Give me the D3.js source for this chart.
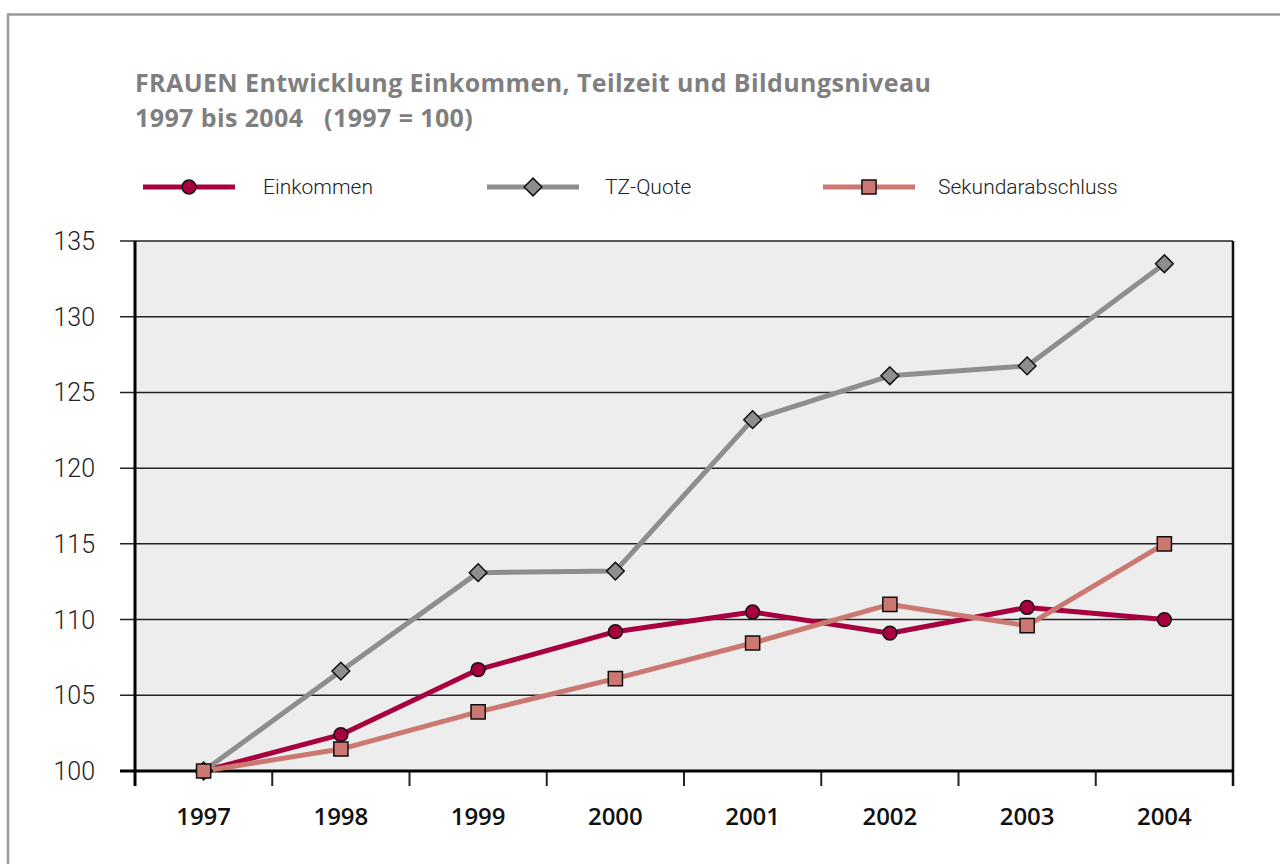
<!DOCTYPE html>
<html>
<head>
<meta charset="utf-8">
<script src="https://cdn.jsdelivr.net/npm/d3@7"></script>
<style>
  body { margin: 0; background: #fff; }
  svg { display: block; }
</style>
</head>
<body>
<div id="chart"></div>
<script>
// data (1997 = 100)
const years = ["1997", "1998", "1999", "2000", "2001", "2002", "2003", "2004"];
const einkommen = [100, 102.4, 106.7, 109.2, 110.5, 109.1, 110.8, 110.0];
const tzQuote = [100, 106.6, 113.1, 113.2, 123.2, 126.1, 126.75, 133.5];
const sekundar = [100, 101.45, 103.9, 106.1, 108.45, 111.0, 109.6, 115.0];
const yTicks = [100, 105, 110, 115, 120, 125, 130, 135];

const series = [
  { name: "Einkommen", values: einkommen, color: "#a8003f", marker: "circle" },
  { name: "TZ-Quote", values: tzQuote, color: "#8e8e8e", marker: "diamond" },
  { name: "Sekundarabschluss", values: sekundar, color: "#cc7872", marker: "square" }
];

const totalWidth = 1280, totalHeight = 864;
const margin = { top: 241, right: 47, bottom: 93, left: 135 };
const width = totalWidth - margin.left - margin.right;
const height = totalHeight - margin.top - margin.bottom;

const svg = d3.select("#chart").append("svg")
    .attr("width", totalWidth)
    .attr("height", totalHeight);

// outer frame (only top and left edges are visible)
svg.append("path")
    .attr("d", `M8,${totalHeight} V14.5 H${totalWidth}`)
    .attr("fill", "none")
    .attr("stroke", "#9a9a9a")
    .attr("stroke-width", 2.5);

// title
const title = svg.append("text")
    .style("font-family", "'Open Sans', sans-serif")
    .style("font-weight", "bold")
    .style("font-size", "25px")
    .style("letter-spacing", "0.4px")
    .attr("fill", "#7f7f7f");
title.append("tspan").attr("x", 135).attr("y", 92)
    .text("FRAUEN Entwicklung Einkommen, Teilzeit und Bildungsniveau");
title.append("tspan").attr("x", 135).attr("y", 127)
    .style("white-space", "pre")
    .text("1997 bis 2004   (1997 = 100)");

const g = svg.append("g")
    .attr("transform", `translate(${margin.left},${margin.top})`);

const x = d3.scaleBand()
    .domain(years)
    .range([0, width]);

const y = d3.scaleLinear()
    .domain([100, 135])
    .range([height, 0]);

// plot background
g.append("rect")
    .attr("width", width)
    .attr("height", height)
    .attr("fill", "#ededed");

// horizontal gridlines with ticks sticking out left
g.append("g")
    .selectAll("line")
    .data(yTicks)
    .enter().append("line")
      .attr("x1", -15)
      .attr("x2", width)
      .attr("y1", d => y(d))
      .attr("y2", d => y(d))
      .attr("stroke", "#222")
      .attr("stroke-width", 1.5);

// y axis labels
g.append("g")
    .selectAll("text")
    .data(yTicks)
    .enter().append("text")
      .attr("x", -40)
      .attr("y", d => y(d))
      .attr("dy", "0.36em")
      .style("text-anchor", "end")
      .style("font-family", "Roboto, sans-serif")
      .style("font-weight", 300)
      .style("font-size", "25px")
      .attr("fill", "#222")
      .text(d => d);

// x axis ticks between categories
const xBounds = years.map(d => x(d)).concat([width]);
g.append("g")
    .selectAll("line")
    .data(xBounds)
    .enter().append("line")
      .attr("x1", d => d)
      .attr("x2", d => d)
      .attr("y1", height)
      .attr("y2", height + 15)
      .attr("stroke", "#222")
      .attr("stroke-width", 2);

// x labels
g.append("g")
    .selectAll("text")
    .data(years)
    .enter().append("text")
      .attr("x", d => x(d) + x.bandwidth() / 2)
      .attr("y", height + 54)
      .style("text-anchor", "middle")
      .style("font-family", "'Open Sans', sans-serif")
      .style("font-weight", 600)
      .style("font-size", "24px")
      .attr("fill", "#111")
      .text(d => d);

// axis lines
g.append("line")
    .attr("x1", 0).attr("x2", 0)
    .attr("y1", 0).attr("y2", height + 15)
    .attr("stroke", "#000").attr("stroke-width", 3);
g.append("line")
    .attr("x1", width).attr("x2", width)
    .attr("y1", 0).attr("y2", height + 15)
    .attr("stroke", "#111").attr("stroke-width", 2.5);
g.append("line")
    .attr("x1", -15).attr("x2", width)
    .attr("y1", height).attr("y2", height)
    .attr("stroke", "#000").attr("stroke-width", 3);

const line = d3.line()
    .x((d, i) => x(years[i]) + x.bandwidth() / 2)
    .y(d => y(d));

const symbolFor = {
  circle: d3.symbol().type(d3.symbolCircle).size(150),
  diamond: d3.symbol().type(d3.symbolDiamond2).size(200),
  square: d3.symbol().type(d3.symbolSquare).size(200)
};

series.forEach(s => {
  g.append("path")
      .datum(s.values)
      .attr("fill", "none")
      .attr("stroke", s.color)
      .attr("stroke-width", 5)
      .attr("stroke-linejoin", "round")
      .attr("d", line);
});
series.forEach(s => {
  g.append("g")
    .selectAll("path")
    .data(s.values)
    .enter().append("path")
      .attr("transform", (d, i) => `translate(${x(years[i]) + x.bandwidth() / 2},${y(d)})`)
      .attr("d", symbolFor[s.marker]())
      .attr("fill", s.color)
      .attr("stroke", "#111")
      .attr("stroke-width", 1.5);
});

// legend
const legendLineX = [143, 487, 823];
const legendTextX = [263, 605, 938];
const legend = svg.append("g")
    .selectAll("g")
    .data(series)
    .enter().append("g")
      .attr("transform", "translate(0,187)");

legend.append("line")
    .attr("x1", (d, i) => legendLineX[i])
    .attr("x2", (d, i) => legendLineX[i] + 92)
    .attr("stroke", d => d.color)
    .attr("stroke-width", 5);
legend.append("path")
    .attr("transform", (d, i) => `translate(${legendLineX[i] + 46},0)`)
    .attr("d", d => symbolFor[d.marker]())
    .attr("fill", d => d.color)
    .attr("stroke", "#111")
    .attr("stroke-width", 1.5);
legend.append("text")
    .attr("x", (d, i) => legendTextX[i])
    .attr("dy", "0.35em")
    .style("font-family", "Roboto, sans-serif")
    .style("font-weight", 300)
    .style("font-size", "21px")
    .attr("fill", "#222")
    .text(d => d.name);
</script>
</body>
</html>
